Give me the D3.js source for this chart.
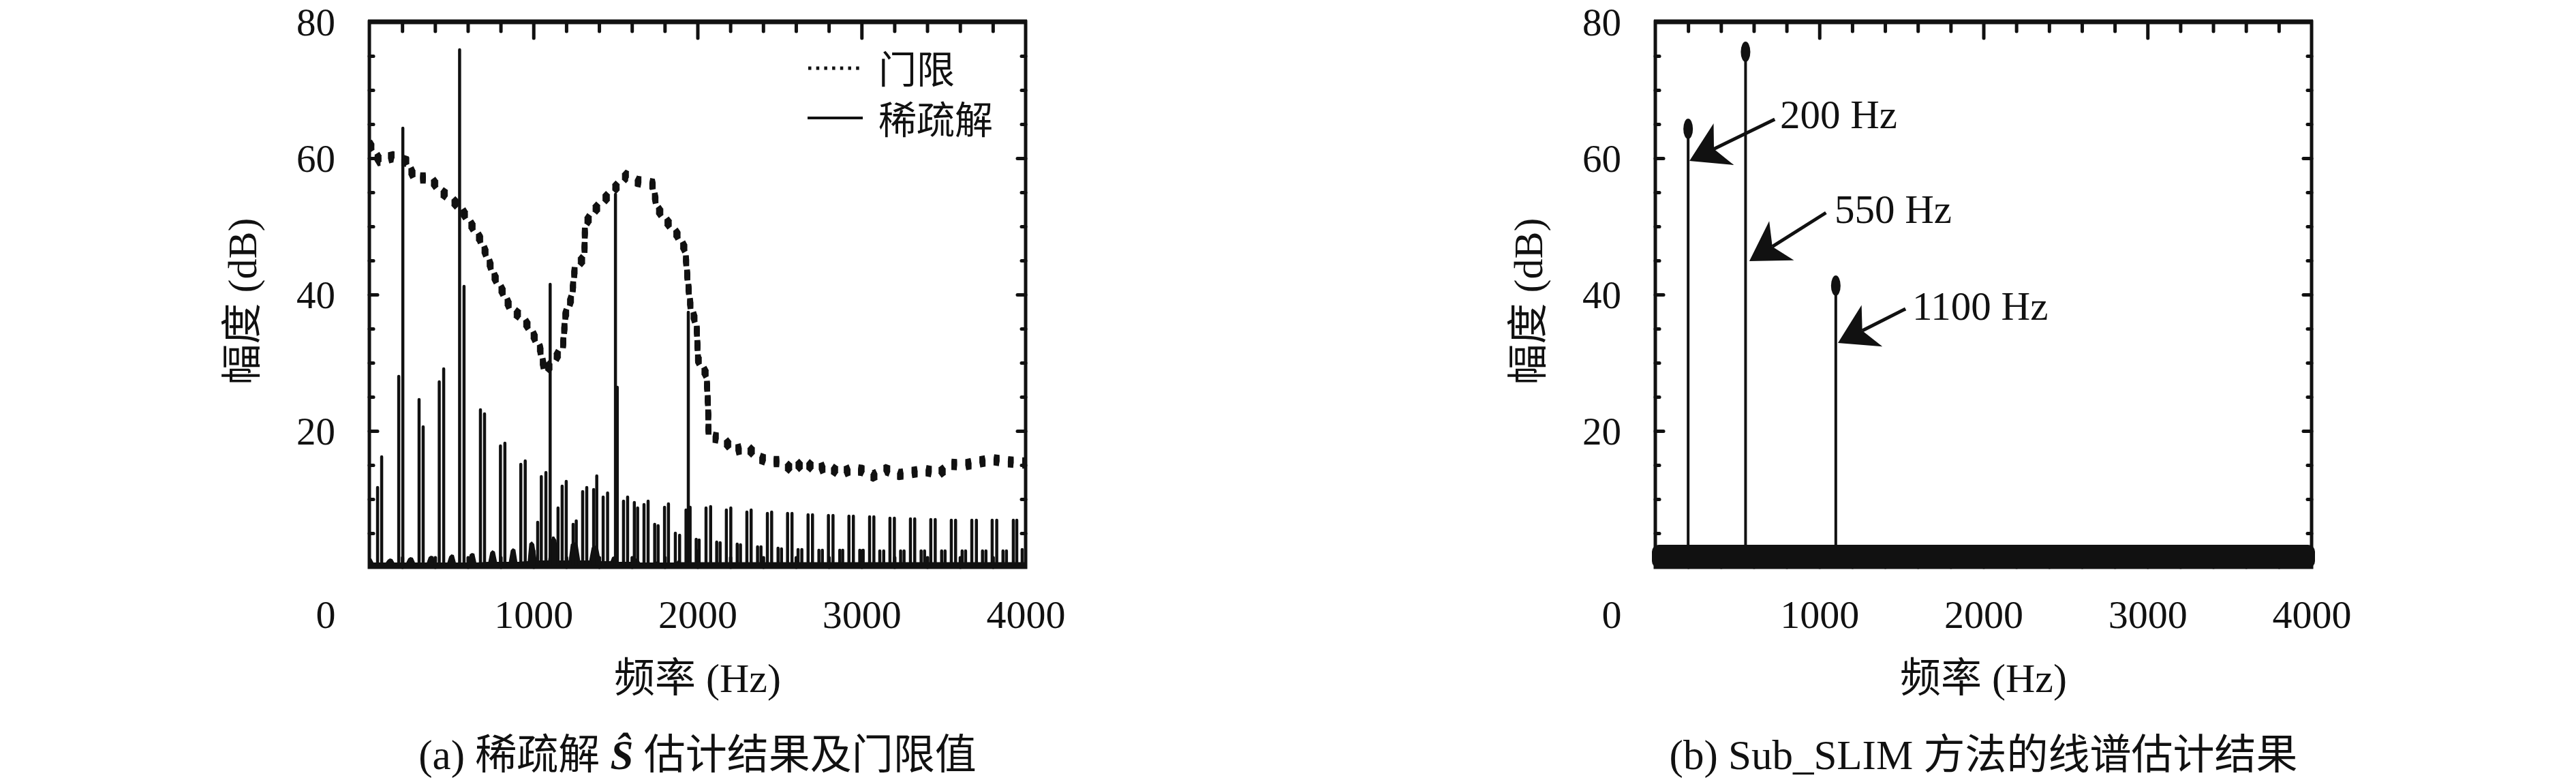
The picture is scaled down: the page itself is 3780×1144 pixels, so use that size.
<!DOCTYPE html>
<html><head><meta charset="utf-8">
<script src="https://cdn.jsdelivr.net/npm/d3@7"></script>
<style>html,body{margin:0;padding:0;background:#fff}svg{display:block}</style>
</head><body>
<svg id="c" width="3780" height="1144"></svg>
<script>
// ---------------- data ----------------
const xTickValues = [0, 1000, 2000, 3000, 4000];
const yTickValues = [20, 40, 60, 80];
const xLabel = "频率 (Hz)";
const yLabel = "幅度 (dB)";
const legendLabels = ["门限", "稀疏解"];

// threshold (门限), panel a
const thrFreq = [0, 61, 144, 227, 275, 373, 432, 501, 564, 622, 674, 721, 763, 813, 861, 933, 989, 1040, 1069, 1127, 1180, 1195, 1235, 1252, 1311, 1314, 1374, 1439, 1501, 1566, 1632, 1725, 1754, 1811, 1876, 1925, 1940, 1958, 1995, 2003, 2055, 2064, 2068, 2159, 2218, 2304, 2369, 2439, 2518, 2581, 2650, 2719, 2795, 2867, 2938, 3003, 3070, 3148, 3229, 3308, 3388, 3474, 3547, 3626, 3709, 3796, 3882, 3972, 4000];
const thrDb   = [62.1, 59.7, 60.2, 59.5, 57.1, 57.1, 55.2, 54.0, 52.4, 50.2, 48.2, 45.4, 42.6, 40.4, 37.9, 36.6, 34.6, 32.1, 28.7, 30.3, 32.5, 37.0, 39.7, 43.8, 45.5, 50.3, 52.4, 54.1, 55.7, 57.4, 56.6, 56.2, 52.7, 50.8, 48.8, 46.6, 42.1, 38.2, 35.5, 30.5, 28.2, 24.0, 19.2, 18.8, 17.1, 17.6, 16.1, 15.5, 15.5, 14.1, 15.6, 14.2, 14.9, 13.7, 14.4, 14.2, 13.4, 14.3, 13.6, 13.9, 14.2, 13.8, 15.1, 15.0, 15.4, 15.8, 15.5, 15.3, 15.3];

// sparse solution (稀疏解), panel a
const sparseFreq = [50, 75, 179, 204, 303, 328, 426, 453, 550, 577, 677, 702, 799, 826, 923, 950, 1026, 1048, 1076, 1102, 1121, 1150, 1175, 1200, 1242, 1261, 1300, 1325, 1367, 1386, 1425, 1452, 1500, 1511, 1549, 1574, 1615, 1635, 1674, 1699, 1739, 1760, 1799, 1823, 1865, 1891, 1930, 1944, 1955,
  1992, 2010, 2052, 2080, 2117, 2138, 2176, 2203, 2242, 2262, 2301, 2327, 2366, 2387, 2426, 2452, 2491, 2512, 2549, 2576, 2613, 2636, 2674, 2701, 2740, 2761, 2798, 2826, 2867, 2885, 2923, 2950, 2989, 3010, 3049, 3075, 3111, 3135, 3173, 3200, 3238, 3259, 3298, 3324, 3363, 3384, 3422, 3449, 3488, 3509, 3547, 3573, 3613, 3634, 3672, 3700, 3737, 3758, 3796, 3824, 3862, 3883, 3925, 3946, 3979];
const sparseDb = [11.7, 16.2, 28.0, 64.4, 24.6, 20.6, 27.2, 29.1, 75.9, 41.2, 23.1, 22.5, 17.8, 18.2, 15.1, 15.6, 6.6, 13.3, 13.9, 41.5, 4.3, 8.7, 11.9, 12.6, 6.3, 6.8, 11.1, 11.7, 11.4, 13.4, 10.3, 10.9, 54.7, 26.4, 9.7, 10.3, 9.5, 8.7, 9.2, 9.7, 6.3, 6.1, 8.8, 9.3, 5.0, 4.7, 8.4, 37.4, 8.8,
  4.1, 4.0, 8.7, 8.9, 3.7, 3.6, 8.4, 8.7, 3.4, 3.3, 8.1, 8.4, 3.0, 3.0, 7.9, 8.1, 2.8, 2.7, 7.9, 7.9, 2.6, 2.6, 7.7, 7.7, 2.5, 2.5, 7.6, 7.6, 2.5, 2.5, 7.5, 7.5, 2.5, 2.5, 7.4, 7.4, 2.4, 2.4, 7.2, 7.2, 2.4, 2.4, 7.1, 7.1, 2.4, 2.4, 7.0, 7.0, 2.4, 2.4, 6.9, 6.9, 2.4, 2.4, 6.9, 6.9, 2.4, 2.4, 6.9, 6.9, 2.4, 2.4, 6.9, 6.9, 2.6];

// noise floor envelope under the sparse solution, panel a
const noiseFreq = [0, 12, 25, 100, 112, 125, 140, 152, 225, 237, 250, 265, 278, 350, 362, 375, 390, 402, 475, 487, 500, 515, 527, 600, 612, 625, 640, 652, 725, 737, 750, 765, 778, 850, 862, 875, 890, 902, 965, 975, 990, 1005, 1020, 1090, 1105, 1125, 1140, 1155, 1215, 1228, 1250, 1270, 1285, 1340, 1355, 1375, 1395, 1410, 1470, 1480, 1490, 1500, 1510, 1600, 1612, 1625, 1640, 1650, 1740, 1755, 1770, 1870, 1880, 1895, 4000];
const noiseDb   = [1.3, 1.3, 0.7, 0.7, 1.1, 1.3, 1.2, 0.7, 0.7, 1.3, 1.5, 1.4, 0.7, 0.7, 1.5, 1.7, 1.6, 0.7, 0.7, 1.6, 1.9, 1.8, 0.7, 0.7, 1.9, 2.1, 2.0, 0.7, 0.8, 2.2, 2.5, 2.3, 0.8, 0.8, 2.5, 2.8, 2.6, 0.8, 0.9, 3.5, 3.8, 3.4, 1.0, 1.0, 4.0, 4.5, 4.0, 1.0, 1.0, 3.4, 3.7, 3.3, 1.0, 1.0, 2.9, 3.2, 2.8, 0.9, 0.9, 1.5, 1.6, 1.4, 0.8, 0.8, 1.2, 1.3, 1.1, 0.7, 0.7, 0.9, 0.7, 0.7, 1.0, 0.75, 0.75];

// Sub_SLIM line spectrum, panel b
const slimFreq = [200, 550, 1100];
const slimDb = [64.3, 75.6, 41.3];
const slimFloorRange = [0, 4000];
const slimFloorDb = 1.6;

// annotations, panel b (data units)
const annLabels = ["200 Hz", "550 Hz", "1100 Hz"];
const annTipFreq = [208, 573, 1113];
const annTipDb = [59.6, 44.9, 32.9];
const annTailFreq = [728, 1040, 1525];
const annTailDb = [65.7, 52.0, 37.9];
const annTextFreq = [760, 1092, 1566];
const annTextDb = [66.4, 52.5, 38.3];

// ---------------- drawing ----------------
const FONT = "'Liberation Serif','Noto Sans CJK SC',serif";
const svg = d3.select('#c');
svg.append('rect').attr('width', 3780).attr('height', 1144).attr('fill', '#fff');

const panels = [
  {x0: 542, y0: 32, w: 963, h: 800, id: 'a'},
  {x0: 2429, y0: 32, w: 963, h: 800, id: 'b'}
];

function scales(p) {
  return {
    x: d3.scaleLinear().domain([0, 4000]).range([p.x0, p.x0 + p.w]),
    y: d3.scaleLinear().domain([0, 80]).range([p.y0 + p.h, p.y0])
  };
}

function drawAxes(p, x, y) {
  const g = svg.append('g');
  const minorX = d3.range(200, 4000, 200).filter(v => v % 1000 !== 0);
  const majorX = [1000, 2000, 3000];
  const minorY = d3.range(5, 80, 5).filter(v => v % 20 !== 0);
  const majorY = [20, 40, 60];
  const tickStyle = sel => { sel.select('.domain').remove(); sel.selectAll('line').attr('stroke', '#111').attr('stroke-width', 5).attr('stroke-linecap', 'round'); };
  // top & bottom (inward)
  g.append('g').attr('transform', `translate(0,${p.y0})`).call(d3.axisBottom(x).tickValues(minorX).tickSize(14).tickFormat('')).call(tickStyle);
  g.append('g').attr('transform', `translate(0,${p.y0})`).call(d3.axisBottom(x).tickValues(majorX).tickSize(24).tickFormat('')).call(tickStyle);
  g.append('g').attr('transform', `translate(0,${p.y0 + p.h})`).call(d3.axisTop(x).tickValues(minorX).tickSize(14).tickFormat('')).call(tickStyle);
  g.append('g').attr('transform', `translate(0,${p.y0 + p.h})`).call(d3.axisTop(x).tickValues(majorX).tickSize(24).tickFormat('')).call(tickStyle);
  // left & right (inward)
  g.append('g').attr('transform', `translate(${p.x0},0)`).call(d3.axisRight(y).tickValues(minorY).tickSize(6).tickFormat('')).call(tickStyle);
  g.append('g').attr('transform', `translate(${p.x0},0)`).call(d3.axisRight(y).tickValues(majorY).tickSize(12).tickFormat('')).call(tickStyle);
  g.append('g').attr('transform', `translate(${p.x0 + p.w},0)`).call(d3.axisLeft(y).tickValues(minorY).tickSize(6).tickFormat('')).call(tickStyle);
  g.append('g').attr('transform', `translate(${p.x0 + p.w},0)`).call(d3.axisLeft(y).tickValues(majorY).tickSize(12).tickFormat('')).call(tickStyle);
  // frame
  g.append('rect').attr('x', p.x0).attr('y', p.y0).attr('width', p.w).attr('height', p.h)
    .attr('fill', 'none').attr('stroke', '#111').attr('stroke-width', 5);
  g.append('line').attr('x1', p.x0 - 2).attr('x2', p.x0 + p.w + 2).attr('y1', p.y0).attr('y2', p.y0)
    .attr('stroke', '#111').attr('stroke-width', 7);

  // tick labels
  const xl = g.append('g').attr('transform', `translate(0,${p.y0 + p.h})`)
    .call(d3.axisBottom(x).tickValues(xTickValues).tickSize(0).tickPadding(48).tickFormat(d3.format('d')));
  xl.select('.domain').remove();
  xl.selectAll('text').attr('font-family', FONT).attr('font-size', 58).attr('fill', '#111');
  xl.selectAll('.tick').filter(d => d === 0).select('text').attr('text-anchor', 'end').attr('x', -50);
  const yl = g.append('g').attr('transform', `translate(${p.x0},0)`)
    .call(d3.axisLeft(y).tickValues(yTickValues).tickSize(0).tickPadding(50).tickFormat(d3.format('d')));
  yl.select('.domain').remove();
  yl.selectAll('text').attr('font-family', FONT).attr('font-size', 57).attr('fill', '#111').attr('dy', '0.335em');

  // axis titles
  g.append('text').attr('x', p.x0 + p.w / 2).attr('y', 995).attr('text-anchor', 'middle')
    .attr('dominant-baseline', 'central').attr('font-family', FONT).attr('font-size', 60).attr('fill', '#111').text(xLabel);
  g.append('text').attr('transform', `translate(${p.x0 - 186},${p.y0 + 410}) rotate(-90)`).attr('text-anchor', 'middle')
    .attr('dominant-baseline', 'central').attr('font-family', FONT).attr('font-size', 60).attr('fill', '#111').text(yLabel);
}

// ---------- panel a ----------
(function () {
  const p = panels[0];
  const {x, y} = scales(p);
  svg.append('clipPath').attr('id', 'clipA').append('rect').attr('x', p.x0).attr('y', p.y0).attr('width', p.w).attr('height', p.h);
  const g = svg.append('g').attr('clip-path', 'url(#clipA)');

  const area = d3.area().x((d, i) => x(noiseFreq[i])).y0(y(0)).y1((d, i) => y(noiseDb[i]));
  g.append('path').attr('d', area(noiseDb)).attr('fill', '#111');

  g.selectAll('line.sp').data(sparseFreq).join('line').attr('class', 'sp')
    .attr('x1', d => x(d)).attr('x2', d => x(d))
    .attr('y1', y(0)).attr('y2', (d, i) => y(sparseDb[i]))
    .attr('stroke', '#111').attr('stroke-width', 4.5).attr('stroke-linecap', 'round');

  const line = d3.line().x((d, i) => x(thrFreq[i])).y((d, i) => y(thrDb[i]));
  const dd = line(thrDb);
  [-4, -2, 0, 2, 4].forEach(o => {
    g.append('path').attr('d', dd).attr('transform', `translate(0,${o})`).attr('fill', 'none')
      .attr('stroke', '#111').attr('stroke-width', 8.5).attr('stroke-dasharray', '8 13');
  });

  drawAxes(p, x, y);

  // legend
  const lg = svg.append('g');
  lg.append('line').attr('x1', 1186).attr('x2', 1266).attr('y1', 100).attr('y2', 100)
    .attr('stroke', '#111').attr('stroke-width', 5).attr('stroke-dasharray', '4.5 7.2');
  lg.append('line').attr('x1', 1185).attr('x2', 1266).attr('y1', 173).attr('y2', 173)
    .attr('stroke', '#111').attr('stroke-width', 4);
  lg.selectAll('text').data(legendLabels).join('text')
    .attr('x', 1289).attr('y', (d, i) => i === 0 ? 103 : 177).attr('dominant-baseline', 'central')
    .attr('font-family', FONT).attr('font-size', 56).attr('fill', '#111').text(d => d);

  // caption
  const t = svg.append('text').attr('x', p.x0 + p.w / 2).attr('y', 1107).attr('text-anchor', 'middle')
    .attr('dominant-baseline', 'central').attr('font-family', FONT).attr('font-size', 61).attr('fill', '#111');
  t.append('tspan').text('(a) 稀疏解 ');
  t.append('tspan').attr('font-weight', 'bold').attr('font-style', 'italic').text('Ŝ');
  t.append('tspan').text(' 估计结果及门限值');
})();

// ---------- panel b ----------
(function () {
  const p = panels[1];
  const {x, y} = scales(p);
  const g = svg.append('g');

  g.selectAll('line.st').data(slimFreq).join('line').attr('class', 'st')
    .attr('x1', d => x(d)).attr('x2', d => x(d))
    .attr('y1', y(slimFloorDb)).attr('y2', (d, i) => y(slimDb[i]))
    .attr('stroke', '#111').attr('stroke-width', 4);
  g.selectAll('ellipse').data(slimFreq).join('ellipse')
    .attr('cx', d => x(d)).attr('cy', (d, i) => y(slimDb[i])).attr('rx', 7).attr('ry', 15).attr('fill', '#111');

  drawAxes(p, x, y);

  // floor of markers at ~0
  svg.append('rect').attr('x', x(slimFloorRange[0]) - 5).attr('width', x(slimFloorRange[1]) - x(slimFloorRange[0]) + 10)
    .attr('y', y(slimFloorDb) - 17).attr('height', 34).attr('rx', 10).attr('fill', '#111');

  // annotations
  const ag = svg.append('g');
  annLabels.forEach((lab, i) => {
    const tx = x(annTipFreq[i]), ty = y(annTipDb[i]);
    const sx = x(annTailFreq[i]), sy = y(annTailDb[i]);
    const dx = sx - tx, dy = sy - ty, len = Math.hypot(dx, dy);
    const ux = dx / len, uy = dy / len, nx = -uy, ny = ux;
    const L = 56, Wd = 34, notch = 16;
    const b1 = [tx + L * ux + Wd * nx, ty + L * uy + Wd * ny];
    const b2 = [tx + L * ux - Wd * nx, ty + L * uy - Wd * ny];
    const m = [tx + (L - notch) * ux, ty + (L - notch) * uy];
    ag.append('line').attr('x1', sx).attr('y1', sy).attr('x2', m[0]).attr('y2', m[1])
      .attr('stroke', '#111').attr('stroke-width', 5);
    ag.append('path').attr('d', `M${tx},${ty}L${b1[0]},${b1[1]}L${m[0]},${m[1]}L${b2[0]},${b2[1]}Z`).attr('fill', '#111');
    ag.append('text').attr('x', x(annTextFreq[i])).attr('y', y(annTextDb[i])).attr('dominant-baseline', 'central')
      .attr('font-family', FONT).attr('font-size', 59).attr('fill', '#111').text(lab);
  });

  svg.append('text').attr('x', p.x0 + p.w / 2).attr('y', 1107).attr('text-anchor', 'middle')
    .attr('dominant-baseline', 'central').attr('font-family', FONT).attr('font-size', 61).attr('fill', '#111')
    .text('(b) Sub_SLIM 方法的线谱估计结果');
})();
</script>
</body></html>
